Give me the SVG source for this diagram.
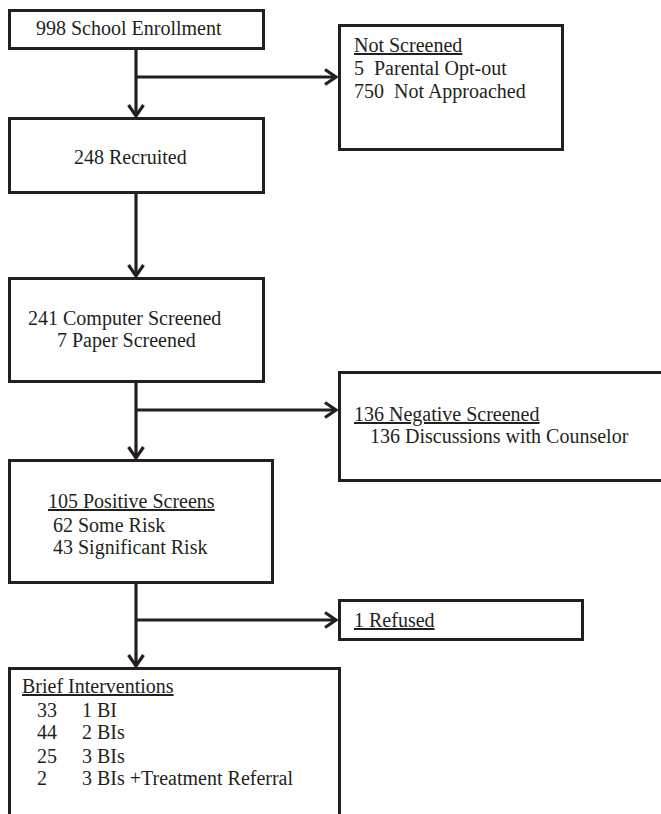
<svg xmlns="http://www.w3.org/2000/svg" width="661" height="814" viewBox="0 0 661 814">
<defs>
<style>
.box{fill:#fff;stroke:#231f20;stroke-width:3}
.t{font-size:20px;fill:#231f20}
.u{text-decoration:underline}
.c{fill:none;stroke:#231f20;stroke-width:3.2}
</style>
<marker id="ah" markerUnits="userSpaceOnUse" markerWidth="20" markerHeight="20" viewBox="-14 -10 20 20" refX="0" refY="0" orient="auto">
<path d="M-11,-7.5 L0,0 L-11,7.5" fill="none" stroke="#231f20" stroke-width="3.2"/>
</marker>
</defs>
<rect width="661" height="814" fill="#fff"/>
<g id="connectors">
<path class="c" d="M136,49 V116" marker-end="url(#ah)"/>
<path class="c" d="M136,77 H336" marker-end="url(#ah)"/>
<path class="c" d="M136,193 V276" marker-end="url(#ah)"/>
<path class="c" d="M136,382 V458" marker-end="url(#ah)"/>
<path class="c" d="M136,410 H336" marker-end="url(#ah)"/>
<path class="c" d="M136,583 V666" marker-end="url(#ah)"/>
<path class="c" d="M136,620 H336" marker-end="url(#ah)"/>
</g>
<g font-family="'Liberation Serif', 'DejaVu Serif', serif">
<g id="enrollment">
<rect class="box" x="9.5" y="10.5" width="254" height="38"/>
<text class="t" x="36" y="35">998 School Enrollment</text>
</g>
<g id="not-screened">
<rect class="box" x="339.5" y="25.5" width="223" height="124"/>
<text class="t u" x="354" y="52">Not Screened</text>
<text class="t" x="354" y="75" xml:space="preserve">5  Parental Opt-out</text>
<text class="t" x="354" y="98" xml:space="preserve">750  Not Approached</text>
</g>
<g id="recruited">
<rect class="box" x="9.5" y="118.5" width="254" height="74"/>
<text class="t" x="74" y="164">248 Recruited</text>
</g>
<g id="screened">
<rect class="box" x="9.5" y="278.5" width="254" height="103"/>
<text class="t" x="28" y="325">241 Computer Screened</text>
<text class="t" x="57" y="347">7 Paper Screened</text>
</g>
<g id="negative">
<rect class="box" x="339.5" y="372.5" width="330" height="108"/>
<text class="t u" x="354" y="421">136 Negative Screened</text>
<text class="t" x="370" y="443">136 Discussions with Counselor</text>
</g>
<g id="positive">
<rect class="box" x="9.5" y="460.5" width="263" height="122"/>
<text class="t u" x="48" y="508">105 Positive Screens</text>
<text class="t" x="53" y="532">62 Some Risk</text>
<text class="t" x="53" y="554">43 Significant Risk</text>
</g>
<g id="refused">
<rect class="box" x="339.5" y="600.5" width="243" height="39"/>
<text class="t u" x="354" y="627">1 Refused</text>
</g>
<g id="brief">
<rect class="box" x="9.5" y="668.5" width="330" height="170"/>
<text class="t u" x="22" y="693">Brief Interventions</text>
<text class="t" x="37" y="717">33</text><text class="t" x="82" y="717">1 BI</text>
<text class="t" x="37" y="739">44</text><text class="t" x="82" y="739">2 BIs</text>
<text class="t" x="37" y="763">25</text><text class="t" x="82" y="763">3 BIs</text>
<text class="t" x="37" y="785">2</text><text class="t" x="82" y="785">3 BIs +Treatment Referral</text>
</g>
</g>
</svg>
